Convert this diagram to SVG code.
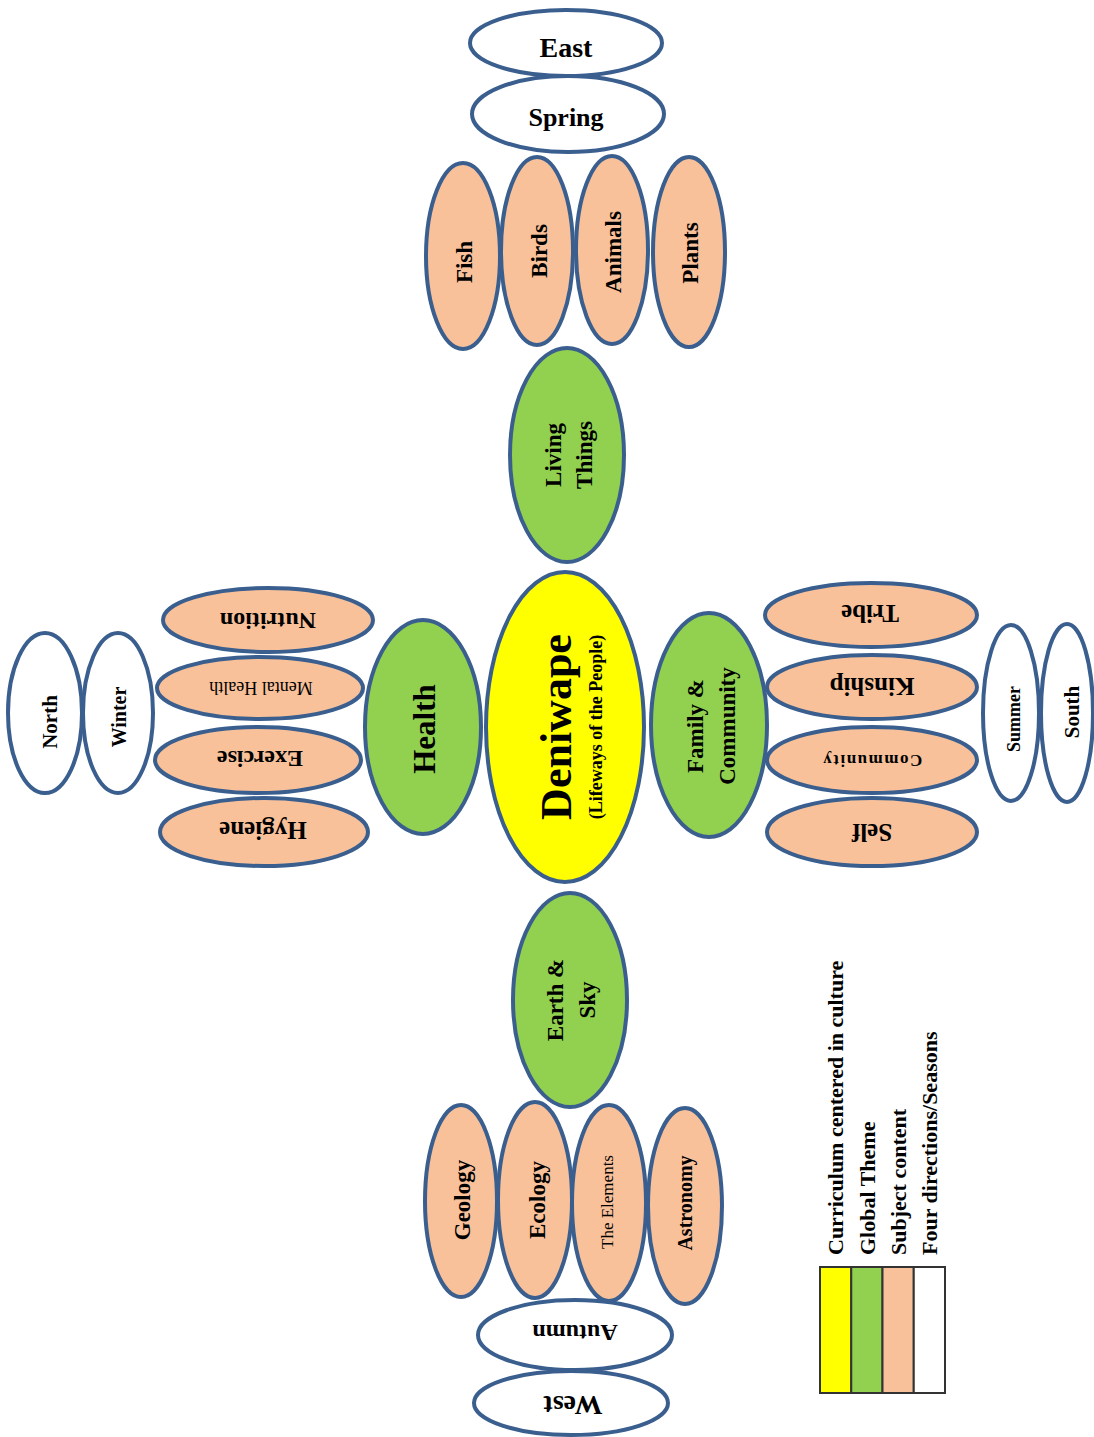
<svg xmlns="http://www.w3.org/2000/svg" width="1094" height="1437" viewBox="0 0 1094 1437">
<style>
  ellipse { stroke: #3A5F8F; stroke-width: 4; }
  .w { fill: #FFFFFF; }
  .g { fill: #92D050; }
  .p { fill: #F8C19A; }
  .y { fill: #FFFF00; }
  text { font-family: "Liberation Serif", "Times New Roman", serif; font-weight: bold; fill: #000; text-anchor: middle; dominant-baseline: central; }
  .reg { font-weight: normal; }
  .leg { text-anchor: start; font-size: 22px; }
  .key { stroke: #333; stroke-width: 2; }
</style>
<rect width="1094" height="1437" fill="#FFFFFF"/>
<g id="connectors"></g>

<!-- Top: East / Spring / Living Things -->
<g id="east"><ellipse class="w" cx="566" cy="43" rx="96" ry="33"/><text x="566" y="47" font-size="28">East</text></g>
<g id="spring"><ellipse class="w" cx="568" cy="114" rx="96" ry="38"/><text x="566" y="117" font-size="26">Spring</text></g>
<g id="fish"><ellipse class="p" cx="463" cy="256" rx="37" ry="93"/><text transform="translate(464,262) rotate(-90)" font-size="23">Fish</text></g>
<g id="birds"><ellipse class="p" cx="537" cy="251" rx="36" ry="94"/><text transform="translate(539,251) rotate(-90)" font-size="23">Birds</text></g>
<g id="animals"><ellipse class="p" cx="612" cy="250" rx="36" ry="94"/><text transform="translate(613,252) rotate(-90)" font-size="23">Animals</text></g>
<g id="plants"><ellipse class="p" cx="689" cy="252" rx="36" ry="95"/><text transform="translate(690,253) rotate(-90)" font-size="23">Plants</text></g>
<g id="living-things"><ellipse class="g" cx="567" cy="455" rx="57" ry="107"/>
  <text transform="translate(553,455) rotate(-90)" font-size="23">Living</text>
  <text transform="translate(584,455) rotate(-90)" font-size="23">Things</text></g>

<!-- Left: Health -->
<g id="north"><ellipse class="w" cx="45" cy="713" rx="37" ry="80"/><text transform="translate(50,722) rotate(-90)" font-size="21">North</text></g>
<g id="winter"><ellipse class="w" cx="118" cy="713" rx="35" ry="80"/><text transform="translate(119,717) rotate(-90)" font-size="20">Winter</text></g>
<g id="nutrition"><ellipse class="p" cx="268" cy="620" rx="105" ry="32"/><text transform="translate(268,621) rotate(180)" font-size="24">Nutrition</text></g>
<g id="mental-health"><ellipse class="p" cx="260" cy="688" rx="103" ry="31"/><text class="reg" transform="translate(261,688) rotate(180)" font-size="18">Mental Health</text></g>
<g id="exercise"><ellipse class="p" cx="258" cy="760" rx="103" ry="33"/><text transform="translate(260,759) rotate(180)" font-size="24">Exercise</text></g>
<g id="hygiene"><ellipse class="p" cx="264" cy="832" rx="104" ry="34"/><text transform="translate(263,830) rotate(180)" font-size="25">Hygiene</text></g>
<g id="health"><ellipse class="g" cx="423" cy="727" rx="58" ry="107"/><text transform="translate(424,729) rotate(-90)" font-size="31">Health</text></g>

<!-- Center -->
<g id="deniwape"><ellipse class="y" cx="565" cy="727" rx="79" ry="155"/>
  <text transform="translate(556,727) rotate(-90)" font-size="44">Deniwape</text>
  <text transform="translate(596,727) rotate(-90)" font-size="18">(Lifeways of the People)</text></g>

<!-- Right: Family & Community -->
<g id="family-community"><ellipse class="g" cx="709" cy="725" rx="58" ry="112"/>
  <text transform="translate(695,726) rotate(-90)" font-size="23">Family &amp;</text>
  <text transform="translate(727,726) rotate(-90)" font-size="23">Community</text></g>
<g id="tribe"><ellipse class="p" cx="871" cy="615" rx="106" ry="32"/><text transform="translate(870,613) rotate(180)" font-size="25">Tribe</text></g>
<g id="kinship"><ellipse class="p" cx="872" cy="687" rx="105" ry="32"/><text transform="translate(872,686) rotate(180)" font-size="25">Kinship</text></g>
<g id="community"><ellipse class="p" cx="872" cy="760" rx="105" ry="33"/><text transform="translate(872,760) rotate(180)" font-size="17" letter-spacing="1.5">Community</text></g>
<g id="self"><ellipse class="p" cx="872" cy="832" rx="105" ry="34"/><text transform="translate(872,832) rotate(180)" font-size="25">Self</text></g>
<g id="summer"><ellipse class="w" cx="1011" cy="713" rx="28" ry="88"/><text transform="translate(1014,719) rotate(-90)" font-size="18">Summer</text></g>
<g id="south"><ellipse class="w" cx="1067" cy="713" rx="26" ry="89"/><text transform="translate(1072,712) rotate(-90)" font-size="21">South</text></g>

<!-- Bottom: Earth & Sky -->
<g id="earth-sky"><ellipse class="g" cx="570" cy="1000" rx="57" ry="107"/>
  <text transform="translate(555,1000) rotate(-90)" font-size="23">Earth &amp;</text>
  <text transform="translate(587,1000) rotate(-90)" font-size="23">Sky</text></g>
<g id="geology"><ellipse class="p" cx="461" cy="1201" rx="36" ry="96"/><text transform="translate(462,1200) rotate(-90)" font-size="23">Geology</text></g>
<g id="ecology"><ellipse class="p" cx="535" cy="1200" rx="37" ry="98"/><text transform="translate(537,1200) rotate(-90)" font-size="23">Ecology</text></g>
<g id="the-elements"><ellipse class="p" cx="609" cy="1203" rx="37" ry="98"/><text class="reg" transform="translate(607,1202) rotate(-90)" font-size="17">The Elements</text></g>
<g id="astronomy"><ellipse class="p" cx="685" cy="1206" rx="37" ry="98"/><text transform="translate(685,1203) rotate(-90)" font-size="20">Astronomy</text></g>
<g id="autumn"><ellipse class="w" cx="575" cy="1335" rx="97" ry="35"/><text transform="translate(575,1333) rotate(180)" font-size="24">Autumn</text></g>
<g id="west"><ellipse class="w" cx="571" cy="1403" rx="97" ry="32"/><text transform="translate(573,1405) rotate(180)" font-size="28">West</text></g>

<!-- Legend -->
<g id="legend">
  <rect class="key" x="820" y="1267" width="31.25" height="126" fill="#FFFF00"/>
  <rect class="key" x="851.25" y="1267" width="31.25" height="126" fill="#92D050"/>
  <rect class="key" x="882.5" y="1267" width="31.25" height="126" fill="#F8C19A"/>
  <rect class="key" x="913.75" y="1267" width="31.25" height="126" fill="#FFFFFF"/>
  <text class="leg" transform="translate(835,1255) rotate(-90)">Curriculum centered in culture</text>
  <text class="leg" transform="translate(867,1255) rotate(-90)">Global Theme</text>
  <text class="leg" transform="translate(898,1255) rotate(-90)">Subject content</text>
  <text class="leg" transform="translate(929,1255) rotate(-90)">Four directions/Seasons</text>
</g>
</svg>
